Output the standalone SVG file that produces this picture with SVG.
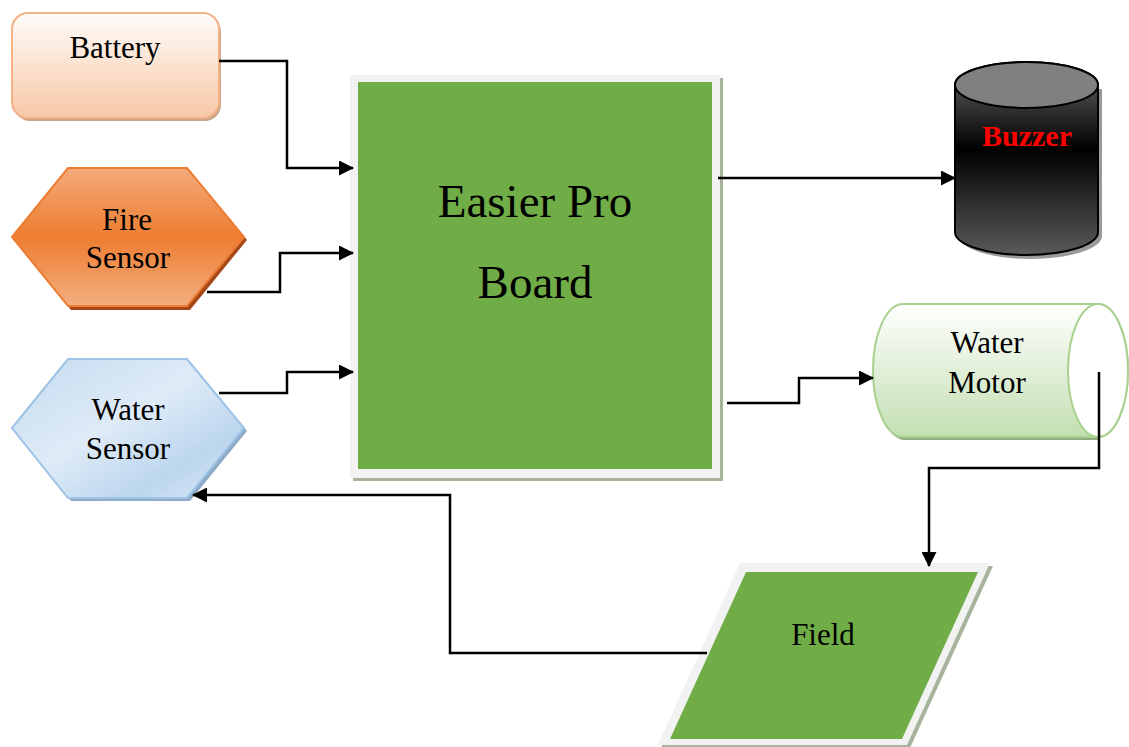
<svg xmlns="http://www.w3.org/2000/svg" width="1129" height="747" viewBox="0 0 1129 747">
<defs>
<style>
.t{font-family:"Liberation Serif","Times New Roman",serif;font-size:31px;fill:#000;text-anchor:middle}
.big{font-size:47px}
.bz{font-weight:bold;fill:#ff0000;font-size:30px}
.conn{fill:none;stroke:#000;stroke-width:2.5}
</style>
<marker id="ah" markerUnits="userSpaceOnUse" markerWidth="15" markerHeight="15" refX="14" refY="7.5" orient="auto">
<path d="M0,0 L15,7.5 L0,15 Z" fill="#000"/>
</marker>
<linearGradient id="gBat" x1="0" y1="0" x2="0" y2="1">
<stop offset="0" stop-color="#fffcfa"/>
<stop offset="1" stop-color="#f7c8a6"/>
</linearGradient>
<linearGradient id="gFire" x1="0" y1="0" x2="0" y2="1">
<stop offset="0" stop-color="#f3ab7b"/>
<stop offset="0.5" stop-color="#ed7d31"/>
<stop offset="1" stop-color="#f3ae80"/>
</linearGradient>
<linearGradient id="gWat" x1="0" y1="0" x2="1" y2="1">
<stop offset="0" stop-color="#c4dbf0"/>
<stop offset="0.45" stop-color="#dfebf7"/>
<stop offset="0.75" stop-color="#bcd6ee"/>
<stop offset="1" stop-color="#dce9f6"/>
</linearGradient>
<linearGradient id="gMot" x1="0" y1="0" x2="0" y2="1">
<stop offset="0" stop-color="#ffffff"/>
<stop offset="1" stop-color="#c3dfb1"/>
</linearGradient>
<linearGradient id="gBuz" x1="0" y1="0" x2="0" y2="1">
<stop offset="0" stop-color="#6a6a6a"/>
<stop offset="0.45" stop-color="#000000"/>
<stop offset="1" stop-color="#5a5a5a"/>
</linearGradient>
</defs>
<rect width="1129" height="747" fill="#fff"/>

<g id="battery">
<rect x="14" y="16" width="207" height="105" rx="16" fill="#c9a58e"/>
<rect x="12" y="13" width="207" height="105" rx="16" fill="url(#gBat)" stroke="#f4b183" stroke-width="2"/>
<text class="t" x="115" y="58">Battery</text>
</g>

<g id="fire-sensor">
<polygon points="15,240 71,171 190,171 247,240 190,310 71,310" fill="#a5481a"/>
<polygon points="12,237 68,168 187,168 244,237 187,306 68,306" fill="url(#gFire)" stroke="#ed7d31" stroke-width="2"/>
<text class="t" x="127" y="230">Fire</text>
<text class="t" x="128" y="268">Sensor</text>
</g>

<g id="water-sensor">
<polygon points="15,431 71,362 190,362 247,431 190,501 71,501" fill="#8faac4"/>
<polygon points="12,428 68,359 187,359 244,428 187,498 68,498" fill="url(#gWat)" stroke="#9dc3e6" stroke-width="2"/>
<text class="t" x="128" y="420">Water</text>
<text class="t" x="128" y="459">Sensor</text>
</g>

<g id="board">
<rect x="353" y="78" width="370" height="403" fill="#a7b39a"/>
<rect x="350" y="75" width="370" height="403" fill="#f2f2f2"/>
<rect x="358" y="82" width="354" height="387" fill="#70ad47"/>
<text class="t big" x="535" y="217">Easier Pro</text>
<text class="t big" x="535" y="298">Board</text>
</g>

<g id="buzzer">
<path d="M959,89 L959,236 A71.5,23 0 0 0 1102,236 L1102,89 Z" fill="#9a9a9a"/>
<path d="M955,85 L955,232 A71.5,23 0 0 0 1098,232 L1098,85 A71.5,23 0 0 0 955,85 Z" fill="url(#gBuz)" stroke="#000" stroke-width="2"/>
<ellipse cx="1026.5" cy="85" rx="71.5" ry="23" fill="#808080" stroke="#000" stroke-width="2"/>
<text class="t bz" x="1027" y="146">Buzzer</text>
</g>

<g id="water-motor">
<path d="M1100,307 L905,307 A30,66.5 0 0 0 905,440 L1100,440 Z" fill="#90ac7e"/>
<path d="M1098,304 L903,304 A30,66.5 0 0 0 903,437 L1098,437 A30,66.5 0 0 0 1098,304 Z" fill="url(#gMot)" stroke="#a9d18e" stroke-width="2"/>
<ellipse cx="1098" cy="370.5" rx="30" ry="66.5" fill="#fff" stroke="#a9d18e" stroke-width="2"/>
<text class="t" x="987" y="353">Water</text>
<text class="t" x="987" y="393">Motor</text>
</g>

<g id="field">
<polygon points="743,566 993,566 910,748 661,748" fill="#a7b39a"/>
<polygon points="740,563 990,563 907,745 658,745" fill="#f2f2f2"/>
<polygon points="746,572 978,572 902,739 670,739" fill="#70ad47"/>
<text class="t" x="823" y="645">Field</text>
</g>

<g id="connectors">
<path class="conn" d="M219,61 L287,61 L287,168 L353,168" marker-end="url(#ah)"/>
<path class="conn" d="M207,292 L280,292 L280,253 L353,253" marker-end="url(#ah)"/>
<path class="conn" d="M219,393 L287,393 L287,372 L353,372" marker-end="url(#ah)"/>
<path class="conn" d="M718,178 L955,178" marker-end="url(#ah)"/>
<path class="conn" d="M727,403 L799,403 L799,378 L873,378" marker-end="url(#ah)"/>
<path class="conn" d="M1099,372 L1099,468 L929,468 L929,566" marker-end="url(#ah)"/>
<path class="conn" d="M707,653 L450,653 L450,495 L193,495" marker-end="url(#ah)"/>
</g>
</svg>
